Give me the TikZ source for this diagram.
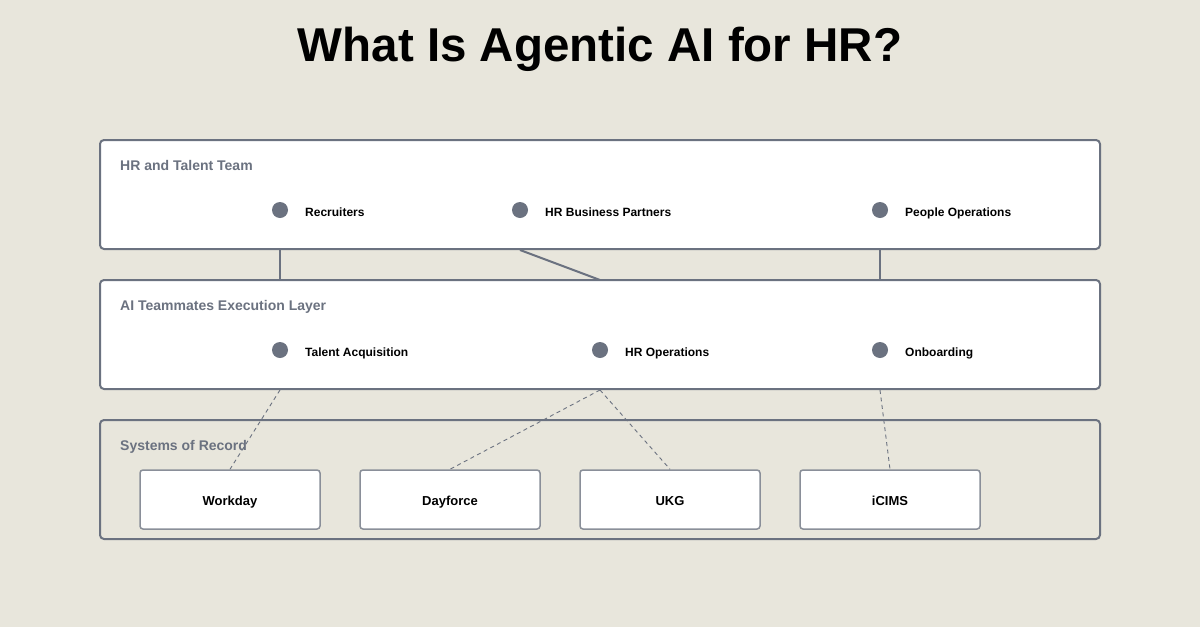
\documentclass[tikz,border=0pt]{standalone}
\usepackage{fontspec}
\setmainfont{Liberation Sans}
\definecolor{bg}{HTML}{E8E6DC}
\definecolor{slate}{HTML}{6B7280}
\definecolor{boxline}{HTML}{8A8F99}
\tikzset{
  panel/.style={draw=slate, line width=2pt, rounded corners=4pt, fill=white, minimum width=1000pt, minimum height=109pt, inner sep=0pt},
  panelopen/.style={panel, fill=none, minimum height=119pt},
  ptitle/.style={anchor=base west, inner sep=0pt, text=slate, font=\fontsize{14}{16}\selectfont\bfseries},
  dot/.style={circle, fill=slate, minimum size=16pt, inner sep=0pt},
  item/.style={anchor=base west, inner sep=0pt, font=\fontsize{12}{14}\selectfont\bfseries},
  sysbox/.style={draw=boxline, line width=1.5pt, rounded corners=3pt, fill=white, minimum width=180pt, minimum height=59pt, inner sep=0pt},
  syslabel/.style={anchor=base, inner sep=0pt, font=\fontsize{13}{15}\selectfont\bfseries},
  solidlink/.style={draw=slate, line width=2pt},
  dashlink/.style={draw=slate, line width=0.9pt, dash pattern=on 4pt off 3.5pt},
}
\begin{document}
\begin{tikzpicture}[x=1pt,y=-1pt]
\fill[bg] (0,0) rectangle (1200,627);
\useasboundingbox (0,0) rectangle (1200,627);
\node[anchor=base, inner sep=0pt, font=\fontsize{47.5}{52}\selectfont\bfseries] (title) at (600,61) {What Is Agentic AI for HR?};

% panels
\node[panel] (p1) at (600,194.5) {};
\node[panel] (p2) at (600,334.5) {};
\node[panelopen] (p3) at (600,479.5) {};
\node[ptitle] (t1) at (120,170.5) {HR and Talent Team};
\node[ptitle] (t2) at (120,310.5) {AI Teammates Execution Layer};
\node[ptitle] (t3) at (120,450.5) {Systems of Record};

% layer 1 items
\node[dot] (d11) at (280,210) {};
\node[item] (l11) at (305,216) {Recruiters};
\node[dot] (d12) at (520,210) {};
\node[item] (l12) at (545,216) {HR Business Partners};
\node[dot] (d13) at (880,210) {};
\node[item] (l13) at (905,216) {People Operations};

% layer 2 items
\node[dot] (d21) at (280,350) {};
\node[item] (l21) at (305,356) {Talent Acquisition};
\node[dot] (d22) at (600,350) {};
\node[item] (l22) at (625,356) {HR Operations};
\node[dot] (d23) at (880,350) {};
\node[item] (l23) at (905,356) {Onboarding};

% systems
\node[sysbox] (s1) at (230,499.5) {};
\node[sysbox] (s2) at (450,499.5) {};
\node[sysbox] (s3) at (670,499.5) {};
\node[sysbox] (s4) at (890,499.5) {};
\node[syslabel] (n1) at (230,505.5) {Workday};
\node[syslabel] (n2) at (450,505.5) {Dayforce};
\node[syslabel] (n3) at (670,505.5) {UKG};
\node[syslabel] (n4) at (890,505.5) {iCIMS};

% connection points
\coordinate (a1) at (280,250);
\coordinate (a2) at (520,250);
\coordinate (a3) at (880,250);
\coordinate (b1) at (280,280);
\coordinate (b2) at (600,280);
\coordinate (b3) at (880,280);
\coordinate (c1) at (280,390);
\coordinate (c2) at (600,390);
\coordinate (c3) at (880,390);

\draw[solidlink] (a1) -- (b1);
\draw[solidlink] (a2) -- (b2);
\draw[solidlink] (a3) -- (b3);

\draw[dashlink] (c1) -- (s1.north);
\draw[dashlink] (c2) -- (s2.north);
\draw[dashlink] (c2) -- (s3.north);
\draw[dashlink] (c3) -- (s4.north);
\end{tikzpicture}
\end{document}
